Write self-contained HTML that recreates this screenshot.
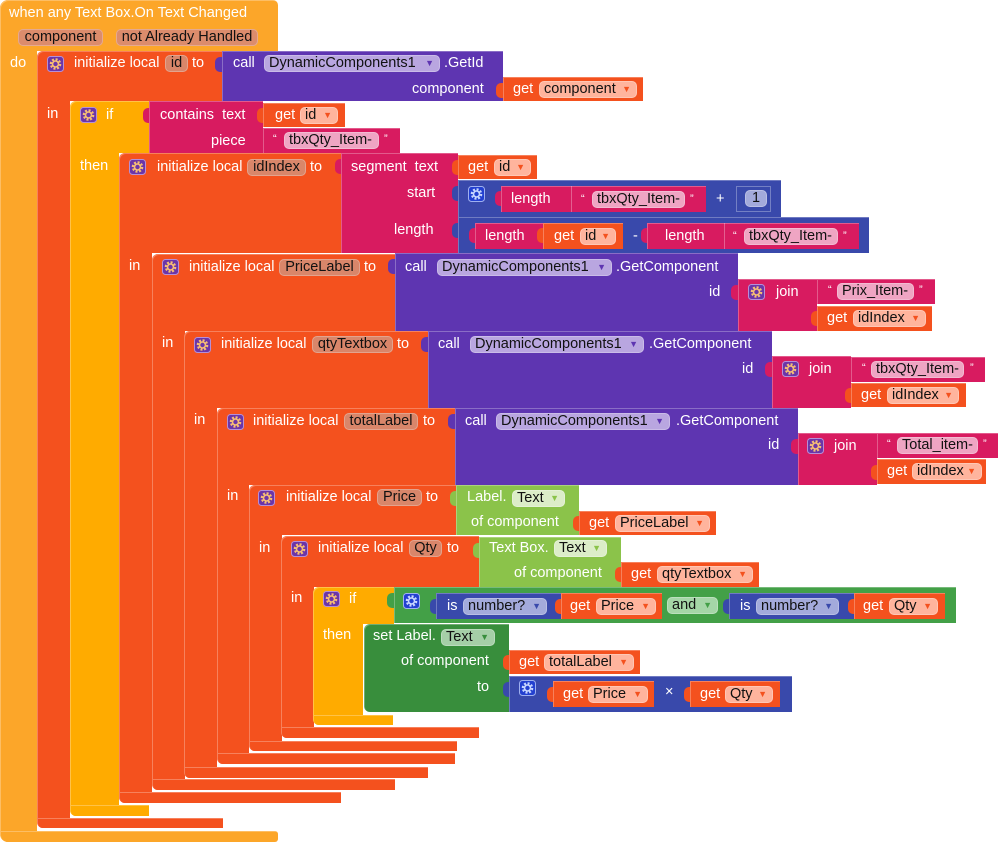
<!DOCTYPE html>
<html><head><meta charset="utf-8">
<style>
body{margin:0;width:999px;height:842px;background:#fff;position:relative;overflow:hidden;font-family:"Liberation Sans",Arial,sans-serif;font-size:14.5px}
.r{position:absolute;box-shadow:inset 1px 1px 0 rgba(255,255,255,.28)}
.t{position:absolute;color:#fff;white-space:nowrap;line-height:18px;height:18px}
.q{position:absolute;color:#fff;font-size:11px;line-height:12px}
.p{position:absolute;color:#111;white-space:nowrap;height:17px;line-height:17px;border-radius:5px;box-sizing:border-box;padding-left:5px;box-shadow:inset 0 0 0 1px rgba(255,255,255,.25)}
.c{text-align:center;padding-left:0}
.a{position:absolute;right:6px;top:0;font-size:9px}
.g{position:absolute;width:17px;height:16px}
.EV{background:#FCA629}.RD{background:#F4511E}.YL{background:#FFAB00}.MG{background:#D81B60}
.PU{background:#5E35B1}.BL{background:#3949AB}.LG{background:#8BC34A}.DG{background:#388E3C}.AG{background:#43A047}
.pEV{background:#DC8C6C}.pRD{background:#D9866A}.pGT{background:#FFB49D}.pPU{background:#B9A6E0}
.pMG{background:#EFA5C3}.pBL{background:#A3AADB}.pLG{background:#DCEDC8}.pDG{background:#A5CFA7}.pAG{background:#A5D6A7}
.tab{position:absolute;width:7px;height:15px;border-radius:5px 0 0 5px}
</style></head><body>
<svg width="0" height="0" style="position:absolute">
<defs>
<symbol id="gp" viewBox="0 0 17 16"><rect x="0.5" y="0.5" width="16" height="15" rx="3" fill="#6B35A8" stroke="#B58FD8"/><circle cx="8.5" cy="8" r="4.6" fill="none" stroke="#F7BE74" stroke-width="2.4" stroke-dasharray="2 1.6"/><circle cx="8.5" cy="8" r="3" fill="#6B35A8" stroke="#F7BE74" stroke-width="1.6"/></symbol>
<symbol id="gb" viewBox="0 0 17 16"><rect x="0.5" y="0.5" width="16" height="15" rx="3" fill="#2340D0" stroke="#9FB0F0"/><circle cx="8.5" cy="8" r="4.6" fill="none" stroke="#C8D6FF" stroke-width="2.4" stroke-dasharray="2 1.6"/><circle cx="8.5" cy="8" r="3" fill="#2340D0" stroke="#C8D6FF" stroke-width="1.6"/></symbol>
</defs></svg>

<!-- Event block -->
<div class="r EV" style="left:0;top:0;width:278px;height:51px;border-radius:8px 5px 0 0"></div>
<div class="r EV" style="left:0;top:0;width:37px;height:842px;border-radius:8px 0 0 8px"></div>
<div class="r EV" style="left:0;top:831px;width:278px;height:11px;border-radius:0 3px 3px 8px"></div>
<div class="t" style="left:9px;top:4px">when any Text Box.On Text Changed</div>
<div class="p pEV c" style="left:18px;top:29px;width:85px">component</div>
<div class="p pEV c" style="left:116px;top:29px;width:142px">not Already Handled</div>
<div class="t" style="left:10px;top:54px">do</div>

<!-- init id -->
<div class="r RD" style="left:37px;top:51px;width:186px;height:50px;border-radius:6px 0 0 0"></div>
<div class="r RD" style="left:37px;top:51px;width:33px;height:777px;border-radius:6px 0 0 6px"></div>
<div class="r RD" style="left:37px;top:818px;width:186px;height:10px;border-radius:0 0 0 6px"></div>
<svg class="g" style="left:47px;top:56px"><use href="#gp"/></svg>
<div class="t" style="left:74px;top:54px">initialize local</div>
<div class="p pRD c" style="left:165px;top:55px;width:23px">id</div>
<div class="t" style="left:192px;top:54px">to</div>
<div class="t" style="left:47px;top:105px">in</div>
<div class="tab PU" style="left:215px;top:57px"></div>
<div class="r PU" style="left:222px;top:51px;width:281px;height:50px"></div>
<div class="t" style="left:233px;top:54px">call</div>
<div class="p pPU" style="left:264px;top:55px;width:176px">DynamicComponents1<span class="a" style="color:#5E35B1">▼</span></div>
<div class="t" style="left:444px;top:54px">.GetId</div>
<div class="t" style="left:412px;top:80px">component</div>
<div class="tab RD" style="left:496px;top:83px"></div>
<div class="r RD" style="left:503px;top:77px;width:140px;height:24px"></div>
<div class="t" style="left:513px;top:80px">get</div>
<div class="p pGT" style="left:539px;top:81px;width:98px">component<span class="a" style="color:#F4511E">▼</span></div>

<!-- outer if -->
<div class="r YL" style="left:70px;top:101px;width:80px;height:52px;border-radius:6px 0 0 0"></div>
<div class="r YL" style="left:70px;top:101px;width:49px;height:715px;border-radius:6px 0 0 6px"></div>
<div class="r YL" style="left:70px;top:805px;width:79px;height:11px;border-radius:0 0 0 6px"></div>
<svg class="g" style="left:80px;top:107px"><use href="#gp"/></svg>
<div class="t" style="left:106px;top:106px">if</div>
<div class="t" style="left:80px;top:157px">then</div>
<div class="tab MG" style="left:143px;top:108px"></div>
<div class="r MG" style="left:149px;top:101px;width:114px;height:52px"></div>
<div class="t" style="left:160px;top:106px">contains&nbsp; text</div>
<div class="t" style="left:211px;top:132px">piece</div>
<div class="tab RD" style="left:257px;top:108px"></div>
<div class="r RD" style="left:263px;top:103px;width:82px;height:24px"></div>
<div class="t" style="left:275px;top:106px">get</div>
<div class="p pGT" style="left:300px;top:107px;width:38px">id<span class="a" style="color:#F4511E">▼</span></div>
<div class="r MG" style="left:263px;top:128px;width:137px;height:25px"></div>
<div class="q" style="left:273px;top:133px">“</div>
<div class="p pMG" style="left:284px;top:132px;width:95px">tbxQty_Item-</div>
<div class="q" style="left:384px;top:133px">”</div>

<!-- idIndex -->
<div class="r RD" style="left:119px;top:153px;width:224px;height:100px;border-radius:6px 0 0 0"></div>
<div class="r RD" style="left:119px;top:153px;width:33px;height:650px;border-radius:6px 0 0 6px"></div>
<div class="r RD" style="left:119px;top:792px;width:222px;height:11px;border-radius:0 0 0 6px"></div>
<svg class="g" style="left:129px;top:159px"><use href="#gp"/></svg>
<div class="t" style="left:157px;top:158px">initialize local</div>
<div class="p pRD c" style="left:247px;top:159px;width:59px">idIndex</div>
<div class="t" style="left:310px;top:158px">to</div>
<div class="t" style="left:129px;top:257px">in</div>
<div class="tab MG" style="left:335px;top:159px"></div>
<div class="r MG" style="left:341px;top:153px;width:117px;height:100px"></div>
<div class="t" style="left:351px;top:158px">segment&nbsp; text</div>
<div class="t" style="left:407px;top:184px">start</div>
<div class="t" style="left:394px;top:221px">length</div>
<div class="tab RD" style="left:452px;top:160px"></div>
<div class="r RD" style="left:458px;top:155px;width:79px;height:24px"></div>
<div class="t" style="left:468px;top:158px">get</div>
<div class="p pGT" style="left:494px;top:159px;width:37px">id<span class="a" style="color:#F4511E">▼</span></div>
<!-- start -->
<div class="tab BL" style="left:452px;top:186px"></div>
<div class="r BL" style="left:458px;top:180px;width:323px;height:37px"></div>
<svg class="g" style="left:468px;top:186px"><use href="#gb"/></svg>
<div class="tab MG" style="left:495px;top:191px"></div>
<div class="r MG" style="left:501px;top:186px;width:205px;height:26px"></div>
<div style="position:absolute;left:571px;top:186px;width:1px;height:26px;background:rgba(255,255,255,.3)"></div>
<div class="t" style="left:511px;top:190px">length</div>
<div class="q" style="left:581px;top:193px">“</div>
<div class="p pMG" style="left:592px;top:191px;width:93px">tbxQty_Item-</div>
<div class="q" style="left:690px;top:193px">”</div>
<div class="t" style="left:716px;top:190px">+</div>
<div class="r BL" style="left:736px;top:186px;width:35px;height:26px;box-shadow:inset 0 0 0 1px rgba(255,255,255,.3)"></div>
<div class="p pBL c" style="left:745px;top:190px;width:22px">1</div>
<!-- length -->
<div class="tab BL" style="left:452px;top:223px"></div>
<div class="r BL" style="left:458px;top:217px;width:411px;height:36px"></div>
<div class="tab MG" style="left:469px;top:228px"></div>
<div class="r MG" style="left:475px;top:223px;width:148px;height:26px"></div>
<div class="t" style="left:485px;top:227px">length</div>
<div class="tab RD" style="left:537px;top:228px"></div>
<div class="r RD" style="left:543px;top:223px;width:80px;height:26px"></div>
<div class="t" style="left:554px;top:227px">get</div>
<div class="p pGT" style="left:580px;top:228px;width:36px">id<span class="a" style="color:#F4511E">▼</span></div>
<div class="t" style="left:633px;top:227px">-</div>
<div class="tab MG" style="left:641px;top:228px"></div>
<div class="r MG" style="left:647px;top:223px;width:212px;height:26px"></div>
<div style="position:absolute;left:724px;top:223px;width:1px;height:26px;background:rgba(255,255,255,.3)"></div>
<div class="t" style="left:665px;top:227px">length</div>
<div class="q" style="left:733px;top:230px">“</div>
<div class="p pMG" style="left:744px;top:228px;width:94px">tbxQty_Item-</div>
<div class="q" style="left:843px;top:230px">”</div>

<!-- PriceLabel -->
<div class="r RD" style="left:152px;top:254px;width:243px;height:77px;border-radius:6px 0 0 0"></div>
<div class="r RD" style="left:152px;top:254px;width:33px;height:536px;border-radius:6px 0 0 6px"></div>
<div class="r RD" style="left:152px;top:779px;width:243px;height:11px;border-radius:0 0 0 6px"></div>
<svg class="g" style="left:162px;top:259px"><use href="#gp"/></svg>
<div class="t" style="left:189px;top:258px">initialize local</div>
<div class="p pRD c" style="left:279px;top:259px;width:81px">PriceLabel</div>
<div class="t" style="left:364px;top:258px">to</div>
<div class="t" style="left:162px;top:334px">in</div>
<div class="tab PU" style="left:388px;top:259px"></div>
<div class="r PU" style="left:395px;top:253px;width:343px;height:78px"></div>
<div class="t" style="left:405px;top:258px">call</div>
<div class="p pPU" style="left:437px;top:259px;width:175px">DynamicComponents1<span class="a" style="color:#5E35B1">▼</span></div>
<div class="t" style="left:616px;top:258px">.GetComponent</div>
<div class="t" style="left:709px;top:283px">id</div>
<div class="tab MG" style="left:731px;top:285px"></div>
<div class="r MG" style="left:738px;top:279px;width:79px;height:52px"></div>
<svg class="g" style="left:748px;top:284px"><use href="#gp"/></svg>
<div class="t" style="left:776px;top:283px">join</div>
<div class="r MG" style="left:817px;top:279px;width:118px;height:25px"></div>
<div class="q" style="left:828px;top:284px">“</div>
<div class="p pMG" style="left:837px;top:283px;width:77px">Prix_Item-</div>
<div class="q" style="left:919px;top:284px">”</div>
<div class="tab RD" style="left:811px;top:311px"></div>
<div class="r RD" style="left:817px;top:306px;width:115px;height:25px"></div>
<div class="t" style="left:827px;top:309px">get</div>
<div class="p pGT" style="left:853px;top:310px;width:73px">idIndex<span class="a" style="color:#F4511E">▼</span></div>

<!-- qtyTextbox -->
<div class="r RD" style="left:184px;top:331px;width:244px;height:77px;border-radius:6px 0 0 0"></div>
<div class="r RD" style="left:184px;top:331px;width:33px;height:447px;border-radius:6px 0 0 6px"></div>
<div class="r RD" style="left:184px;top:767px;width:244px;height:11px;border-radius:0 0 0 6px"></div>
<svg class="g" style="left:194px;top:337px"><use href="#gp"/></svg>
<div class="t" style="left:221px;top:335px">initialize local</div>
<div class="p pRD c" style="left:312px;top:336px;width:81px">qtyTextbox</div>
<div class="t" style="left:397px;top:335px">to</div>
<div class="t" style="left:194px;top:411px">in</div>
<div class="tab PU" style="left:421px;top:337px"></div>
<div class="r PU" style="left:428px;top:331px;width:344px;height:77px"></div>
<div class="t" style="left:438px;top:335px">call</div>
<div class="p pPU" style="left:470px;top:336px;width:174px">DynamicComponents1<span class="a" style="color:#5E35B1">▼</span></div>
<div class="t" style="left:649px;top:335px">.GetComponent</div>
<div class="t" style="left:742px;top:360px">id</div>
<div class="tab MG" style="left:765px;top:362px"></div>
<div class="r MG" style="left:772px;top:356px;width:79px;height:52px"></div>
<svg class="g" style="left:782px;top:361px"><use href="#gp"/></svg>
<div class="t" style="left:809px;top:360px">join</div>
<div class="r MG" style="left:851px;top:357px;width:134px;height:25px"></div>
<div class="q" style="left:862px;top:362px">“</div>
<div class="p pMG" style="left:871px;top:361px;width:93px">tbxQty_Item-</div>
<div class="q" style="left:970px;top:362px">”</div>
<div class="tab RD" style="left:845px;top:388px"></div>
<div class="r RD" style="left:851px;top:383px;width:115px;height:24px"></div>
<div class="t" style="left:861px;top:386px">get</div>
<div class="p pGT" style="left:887px;top:387px;width:72px">idIndex<span class="a" style="color:#F4511E">▼</span></div>

<!-- totalLabel -->
<div class="r RD" style="left:217px;top:408px;width:238px;height:77px;border-radius:6px 0 0 0"></div>
<div class="r RD" style="left:217px;top:408px;width:32px;height:356px;border-radius:6px 0 0 6px"></div>
<div class="r RD" style="left:217px;top:753px;width:238px;height:11px;border-radius:0 0 0 6px"></div>
<svg class="g" style="left:227px;top:414px"><use href="#gp"/></svg>
<div class="t" style="left:253px;top:412px">initialize local</div>
<div class="p pRD c" style="left:344px;top:413px;width:74px">totalLabel</div>
<div class="t" style="left:423px;top:412px">to</div>
<div class="t" style="left:227px;top:487px">in</div>
<div class="tab PU" style="left:448px;top:414px"></div>
<div class="r PU" style="left:455px;top:408px;width:343px;height:77px"></div>
<div class="t" style="left:465px;top:412px">call</div>
<div class="p pPU" style="left:496px;top:413px;width:174px">DynamicComponents1<span class="a" style="color:#5E35B1">▼</span></div>
<div class="t" style="left:676px;top:412px">.GetComponent</div>
<div class="t" style="left:768px;top:436px">id</div>
<div class="tab MG" style="left:791px;top:439px"></div>
<div class="r MG" style="left:798px;top:433px;width:79px;height:52px"></div>
<svg class="g" style="left:807px;top:438px"><use href="#gp"/></svg>
<div class="t" style="left:834px;top:437px">join</div>
<div class="r MG" style="left:877px;top:433px;width:121px;height:25px"></div>
<div class="q" style="left:887px;top:438px">“</div>
<div class="p pMG" style="left:897px;top:437px;width:81px">Total_item-</div>
<div class="q" style="left:983px;top:438px">”</div>
<div class="tab RD" style="left:871px;top:465px"></div>
<div class="r RD" style="left:877px;top:459px;width:109px;height:25px"></div>
<div class="t" style="left:887px;top:462px">get</div>
<div class="p pGT" style="left:912px;top:463px;width:70px">idIndex<span class="a" style="color:#F4511E">▼</span></div>

<!-- Price -->
<div class="r RD" style="left:249px;top:485px;width:208px;height:50px;border-radius:6px 0 0 0"></div>
<div class="r RD" style="left:249px;top:485px;width:33px;height:266px;border-radius:6px 0 0 6px"></div>
<div class="r RD" style="left:249px;top:741px;width:208px;height:10px;border-radius:0 0 0 6px"></div>
<svg class="g" style="left:258px;top:490px"><use href="#gp"/></svg>
<div class="t" style="left:286px;top:488px">initialize local</div>
<div class="p pRD c" style="left:377px;top:489px;width:45px">Price</div>
<div class="t" style="left:426px;top:488px">to</div>
<div class="t" style="left:259px;top:539px">in</div>
<div class="tab LG" style="left:450px;top:491px"></div>
<div class="r LG" style="left:456px;top:485px;width:123px;height:50px"></div>
<div class="t" style="left:467px;top:488px">Label.</div>
<div class="p pLG" style="left:512px;top:490px;width:53px">Text<span class="a" style="color:#8BC34A">▼</span></div>
<div class="t" style="left:471px;top:513px">of component</div>
<div class="tab RD" style="left:573px;top:516px"></div>
<div class="r RD" style="left:579px;top:511px;width:137px;height:24px"></div>
<div class="t" style="left:589px;top:514px">get</div>
<div class="p pGT" style="left:615px;top:515px;width:95px">PriceLabel<span class="a" style="color:#F4511E">▼</span></div>

<!-- Qty -->
<div class="r RD" style="left:281px;top:536px;width:198px;height:51px;border-radius:6px 0 0 0"></div>
<div class="r RD" style="left:281px;top:536px;width:33px;height:202px;border-radius:6px 0 0 6px"></div>
<div class="r RD" style="left:281px;top:727px;width:198px;height:11px;border-radius:0 0 0 6px"></div>
<svg class="g" style="left:291px;top:541px"><use href="#gp"/></svg>
<div class="t" style="left:318px;top:539px">initialize local</div>
<div class="p pRD c" style="left:409px;top:540px;width:33px">Qty</div>
<div class="t" style="left:447px;top:539px">to</div>
<div class="t" style="left:291px;top:589px">in</div>
<div class="tab LG" style="left:473px;top:543px"></div>
<div class="r LG" style="left:479px;top:537px;width:142px;height:50px"></div>
<div class="t" style="left:489px;top:539px">Text Box.</div>
<div class="p pLG" style="left:554px;top:540px;width:53px">Text<span class="a" style="color:#8BC34A">▼</span></div>
<div class="t" style="left:514px;top:564px">of component</div>
<div class="tab RD" style="left:615px;top:567px"></div>
<div class="r RD" style="left:621px;top:562px;width:138px;height:25px"></div>
<div class="t" style="left:631px;top:565px">get</div>
<div class="p pGT" style="left:657px;top:566px;width:96px">qtyTextbox<span class="a" style="color:#F4511E">▼</span></div>

<!-- inner if -->
<div class="r YL" style="left:313px;top:587px;width:81px;height:37px;border-radius:6px 0 0 0"></div>
<div class="r YL" style="left:313px;top:587px;width:50px;height:138px;border-radius:6px 0 0 6px"></div>
<div class="r YL" style="left:313px;top:715px;width:80px;height:10px;border-radius:0 0 0 6px"></div>
<svg class="g" style="left:323px;top:591px"><use href="#gp"/></svg>
<div class="t" style="left:349px;top:590px">if</div>
<div class="t" style="left:323px;top:626px">then</div>
<div class="tab AG" style="left:387px;top:593px"></div>
<div class="r AG" style="left:394px;top:587px;width:562px;height:36px"></div>
<svg class="g" style="left:403px;top:593px"><use href="#gb"/></svg>
<div class="tab BL" style="left:430px;top:599px"></div>
<div class="r BL" style="left:436px;top:593px;width:125px;height:26px"></div>
<div class="t" style="left:447px;top:597px">is</div>
<div class="p pBL" style="left:463px;top:598px;width:84px">number?<span class="a" style="color:#3949AB">▼</span></div>
<div class="tab RD" style="left:555px;top:599px"></div>
<div class="r RD" style="left:561px;top:593px;width:101px;height:26px"></div>
<div class="t" style="left:570px;top:597px">get</div>
<div class="p pGT" style="left:596px;top:598px;width:60px">Price<span class="a" style="color:#F4511E">▼</span></div>
<div class="p pAG" style="left:667px;top:597px;width:51px">and<span class="a" style="color:#43A047">▼</span></div>
<div class="tab BL" style="left:723px;top:599px"></div>
<div class="r BL" style="left:729px;top:593px;width:125px;height:26px"></div>
<div class="t" style="left:740px;top:597px">is</div>
<div class="p pBL" style="left:756px;top:598px;width:83px">number?<span class="a" style="color:#3949AB">▼</span></div>
<div class="tab RD" style="left:848px;top:599px"></div>
<div class="r RD" style="left:854px;top:593px;width:91px;height:26px"></div>
<div class="t" style="left:863px;top:597px">get</div>
<div class="p pGT" style="left:889px;top:598px;width:49px">Qty<span class="a" style="color:#F4511E">▼</span></div>

<!-- set -->
<div class="r DG" style="left:364px;top:624px;width:145px;height:88px;border-radius:6px 0 0 6px"></div>
<div class="t" style="left:373px;top:627px">set Label.</div>
<div class="p pDG" style="left:441px;top:629px;width:54px">Text<span class="a" style="color:#388E3C">▼</span></div>
<div class="t" style="left:401px;top:652px">of component</div>
<div class="t" style="left:477px;top:678px">to</div>
<div class="tab RD" style="left:503px;top:655px"></div>
<div class="r RD" style="left:509px;top:650px;width:131px;height:24px"></div>
<div class="t" style="left:519px;top:653px">get</div>
<div class="p pGT" style="left:544px;top:654px;width:90px">totalLabel<span class="a" style="color:#F4511E">▼</span></div>
<div class="tab BL" style="left:503px;top:682px"></div>
<div class="r BL" style="left:509px;top:676px;width:283px;height:36px"></div>
<svg class="g" style="left:519px;top:680px"><use href="#gb"/></svg>
<div class="tab RD" style="left:547px;top:687px"></div>
<div class="r RD" style="left:553px;top:681px;width:101px;height:26px"></div>
<div class="t" style="left:563px;top:685px">get</div>
<div class="p pGT" style="left:588px;top:686px;width:60px">Price<span class="a" style="color:#F4511E">▼</span></div>
<div class="t" style="left:665px;top:683px">×</div>
<div class="tab RD" style="left:684px;top:687px"></div>
<div class="r RD" style="left:690px;top:681px;width:90px;height:26px"></div>
<div class="t" style="left:700px;top:685px">get</div>
<div class="p pGT" style="left:725px;top:686px;width:48px">Qty<span class="a" style="color:#F4511E">▼</span></div>
</body></html>
